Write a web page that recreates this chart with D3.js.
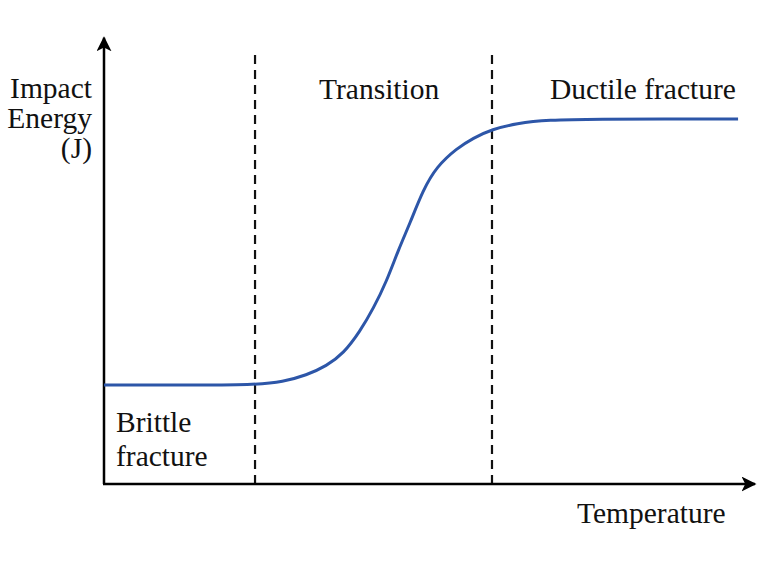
<!DOCTYPE html>
<html lang="en">
<head>
    <meta charset="UTF-8">
    <title>Impact Energy vs Temperature</title>
    <script src="https://cdn.jsdelivr.net/npm/d3@7"></script>
    <style>
      body { margin: 0; background: #fff; }
    </style>
</head>
<body>
<script>
  // curve (arbitrary units, 0-100 on both axes)
  var temperature = [0, 11.7, 23.2, 27.5, 31.1, 34.2, 36.8, 39.3, 41.4, 43.4, 45.2, 47.0, 49.0, 51.1, 54.2, 56.7, 59.6, 63.4, 68.0, 76.2, 86.9, 97.4];
  var energy      = [22.3, 22.3, 22.3, 23.0, 24.5, 26.6, 29.4, 34.3, 39.6, 45.6, 52.7, 58.7, 66.2, 71.5, 75.6, 77.9, 79.9, 81.2, 82.0, 82.2, 82.2, 82.2];
  // region borders (dashed lines)
  var borders = [23.2, 59.6];

  var width = 780, height = 562;

  var svg = d3.select("body").append("svg")
    .attr("width", width)
    .attr("height", height);

  var x = d3.scaleLinear().domain([0, 100]).range([104, 755]);
  var y = d3.scaleLinear().domain([0, 100]).range([484, 40]);

  var defs = svg.append("defs");
  defs.append("marker")
    .attr("id", "arrow")
    .attr("viewBox", "0 0 10 10")
    .attr("refX", 9).attr("refY", 5)
    .attr("markerWidth", 6).attr("markerHeight", 6)
    .attr("markerUnits", "strokeWidth")
    .attr("orient", "auto")
    .append("path")
    .attr("d", "M0,0 L10,5 L0,10 L2.5,5 Z")
    .attr("fill", "#000");

  // dashed borders
  svg.selectAll("line.border")
    .data(borders)
    .enter().append("line")
    .attr("class", "border")
    .attr("x1", d => x(d)).attr("x2", d => x(d))
    .attr("y1", y(0)).attr("y2", y(98))
    .attr("stroke", "#111")
    .attr("stroke-width", 2.2)
    .attr("stroke-dasharray", "9,6");

  // axes
  svg.append("line")
    .attr("x1", x(0)).attr("y1", y(0))
    .attr("x2", x(0)).attr("y2", y(100.5))
    .attr("stroke", "#000").attr("stroke-width", 2.5)
    .attr("marker-end", "url(#arrow)");
  svg.append("line")
    .attr("x1", x(0) - 1).attr("y1", y(0))
    .attr("x2", x(100)).attr("y2", y(0))
    .attr("stroke", "#000").attr("stroke-width", 2.5)
    .attr("marker-end", "url(#arrow)");

  var line = d3.line()
    .x(d => x(d[0]))
    .y(d => y(d[1]))
    .curve(d3.curveBasis);

  svg.append("path")
    .attr("d", line(d3.zip(temperature, energy)))
    .attr("fill", "none")
    .attr("stroke", "#2d56a8")
    .attr("stroke-width", 3);

  var fs = 29.5;
  function label(tx, ty, str, anchor) {
    svg.append("text")
      .attr("x", tx).attr("y", ty)
      .attr("text-anchor", anchor || "start")
      .attr("font-family", "'Liberation Serif', 'DejaVu Serif', Times, serif")
      .attr("font-size", fs)
      .attr("fill", "#111")
      .text(str);
  }

  label(92, 98, "Impact", "end");
  label(92, 128, "Energy", "end");
  label(92, 158, "(J)", "end");
  label(319, 99, "Transition");
  label(550, 99, "Ductile fracture");
  label(116, 432, "Brittle");
  label(116, 466, "fracture");
  label(577, 523, "Temperature");
</script>
</body>
</html>
